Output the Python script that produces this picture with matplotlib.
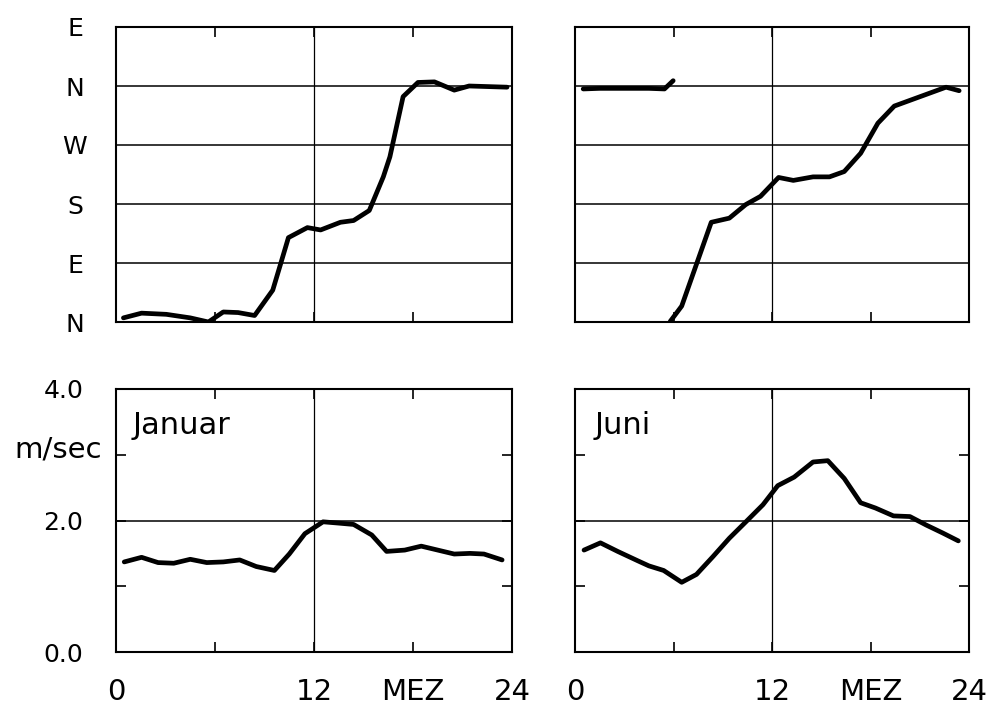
import matplotlib
matplotlib.use("Agg")
import matplotlib.pyplot as plt

# ---------------- data ----------------
dir_labels = ["N", "E", "S", "W", "N", "E"]
speed_labels = ["0.0", "", "2.0", "", "4.0"]
hour_labels = ["0", "", "12", "MEZ", "24"]
hour_ticks = [0, 6, 12, 18, 24]

jan_dir_h = [0.45, 1.55, 3.05, 4.5, 5.6, 6.5, 7.4, 8.4, 9.5, 9.95, 10.45, 11.6,
             12.4, 13.6, 14.4, 15.35, 16.2, 16.6, 17.4, 18.3, 19.3, 20.5, 21.4, 23.7]
jan_dir = [0.07, 0.15, 0.13, 0.07, 0.0, 0.17, 0.16, 0.11, 0.54, 0.96, 1.43, 1.60,
           1.56, 1.69, 1.72, 1.89, 2.46, 2.80, 3.82, 4.06, 4.07, 3.93, 4.00, 3.98]

jun_dir_a_h = [0.5, 1.5, 2.5, 3.5, 4.5, 5.45, 5.98]
jun_dir_a = [3.95, 3.96, 3.96, 3.96, 3.96, 3.95, 4.09]
jun_dir_b_h = [5.8, 6.5, 8.3, 9.4, 10.4, 11.3, 12.4, 13.3, 14.5, 15.5, 16.4,
               17.4, 18.45, 19.45, 22.6, 23.4]
jun_dir_b = [0.01, 0.27, 1.69, 1.76, 1.99, 2.13, 2.45, 2.40, 2.46, 2.46, 2.55,
             2.86, 3.37, 3.66, 3.98, 3.92]

jan_spd_h = [0.5, 1.55, 2.55, 3.5, 4.5, 5.5, 6.5, 7.5, 8.5, 9.6, 10.5, 11.45,
             12.55, 13.5, 14.4, 15.5, 16.4, 17.5, 18.5, 19.5, 20.5, 21.45, 22.3, 23.4]
jan_spd = [1.37, 1.44, 1.36, 1.35, 1.41, 1.36, 1.37, 1.40, 1.30, 1.24, 1.49, 1.80,
           1.98, 1.96, 1.94, 1.78, 1.53, 1.55, 1.61, 1.55, 1.49, 1.50, 1.49, 1.40]

jun_spd_h = [0.55, 1.55, 2.6, 3.8, 4.5, 5.4, 6.5, 7.4, 8.4, 9.4, 10.45, 11.45,
             12.35, 13.35, 14.5, 15.4, 16.4, 17.4, 18.3, 19.4, 20.4, 21.4, 22.4, 23.35]
jun_spd = [1.55, 1.66, 1.53, 1.39, 1.31, 1.24, 1.06, 1.18, 1.45, 1.73, 1.99, 2.24,
           2.53, 2.66, 2.89, 2.91, 2.64, 2.27, 2.19, 2.07, 2.06, 1.93, 1.81, 1.69]

month_names = ["Januar", "Juni"]

# ---------------- figure ----------------
W, H = 989, 710
plt.rcParams["font.family"] = ["DejaVu Sans"]
fig = plt.figure(figsize=(W / 100, H / 100), dpi=100)

def frac(l, r, t, b):
    return [l / W, 1 - b / H, (r - l) / W, (b - t) / H]

ax_tl = fig.add_axes(frac(116, 512, 27, 322))
ax_tr = fig.add_axes(frac(575, 969, 27, 322))
ax_bl = fig.add_axes(frac(116, 512, 389, 652))
ax_br = fig.add_axes(frac(575, 969, 389, 652))

LW = 3.4
SP = 1.5

def style(ax, top):
    ax.set_xlim(0, 24)
    for s in ax.spines.values():
        s.set_linewidth(SP)
    ax.axvline(12, color="black", lw=0.9, zorder=1)
    ax.set_xticks(hour_ticks)
    ax.tick_params(axis="both", which="both", direction="in", length=7, width=1.2,
                   top=True, right=True)
    if top:
        ax.set_ylim(0, 5)
        ax.set_yticks(range(6))
        for y in range(1, 5):
            ax.axhline(y, color="black", lw=1.1, zorder=1)
        ax.tick_params(axis="y", length=0)
        ax.set_xticklabels([])
    else:
        ax.set_ylim(0, 4)
        ax.set_yticks(range(5))
        ax.axhline(2, color="black", lw=1.1, zorder=1)

style(ax_tl, True)
style(ax_tr, True)
style(ax_bl, False)
style(ax_br, False)

kw = dict(color="black", lw=LW, solid_joinstyle="round", solid_capstyle="round", zorder=3)

# direction panels
ax_tl.plot(jan_dir_h, jan_dir, **kw)
ax_tr.plot(jun_dir_a_h, jun_dir_a, **kw)
ax_tr.plot(jun_dir_b_h, jun_dir_b, **kw)

ax_tl.tick_params(axis="y", pad=29.5, labelsize=18)
ax_tl.set_yticklabels(dir_labels)
for t in ax_tl.get_yticklabels():
    t.set_horizontalalignment("center")
    t.set_fontsize(18)
ax_tr.set_yticklabels([])

# speed panels
ax_bl.plot(jan_spd_h, jan_spd, **kw)
ax_br.plot(jun_spd_h, jun_spd, **kw)

ax_bl.tick_params(axis="y", pad=23.5, labelsize=18)
ax_bl.set_yticklabels(speed_labels)
for t in ax_bl.get_yticklabels():
    t.set_fontsize(18)
ax_bl.annotate("m/sec", xy=(0, 3), xycoords=("axes fraction", "data"),
               xytext=(-10, 4), textcoords="offset points", ha="right",
               va="center", fontsize=21)
ax_br.set_yticklabels([])

for ax in (ax_bl, ax_br):
    ax.tick_params(axis="x", pad=19, labelsize=21)
    ax.set_xticklabels(hour_labels)

ax_bl.text(0.043, 0.83, month_names[0], transform=ax_bl.transAxes, fontsize=22,
           ha="left", va="baseline")
ax_br.text(0.05, 0.83, month_names[1], transform=ax_br.transAxes, fontsize=22,
           ha="left", va="baseline")

fig.savefig("out.png", dpi=100)
